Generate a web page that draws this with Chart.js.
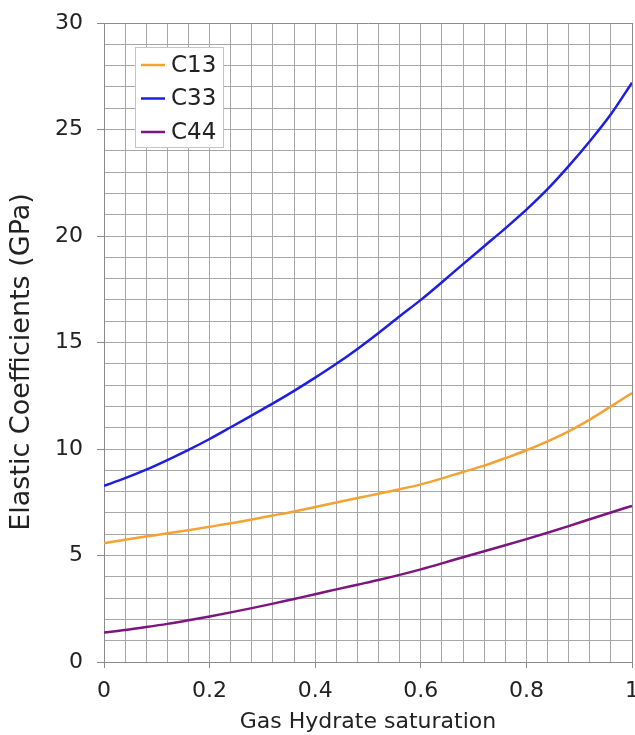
<!DOCTYPE html>
<html>
<head>
<meta charset="utf-8">
<title>Elastic Coefficients vs Gas Hydrate saturation</title>
<script src="https://cdn.jsdelivr.net/npm/chart.js@4.4.1/dist/chart.umd.min.js"></script>
<style>
  html, body { margin: 0; padding: 0; background: #ffffff; }
  canvas { display: block; }
</style>
</head>
<body>
<canvas id="chart" width="635" height="735"></canvas>
<script>
// Gas hydrate saturation (fraction) at which each coefficient is given
const saturation = [0, 0.04, 0.08, 0.12, 0.16, 0.20, 0.24, 0.28, 0.32, 0.36, 0.40, 0.44, 0.48,
                    0.52, 0.56, 0.60, 0.64, 0.68, 0.72, 0.76, 0.80, 0.84, 0.88, 0.92, 0.96, 1.00];

// Elastic coefficients in GPa
const c13 = [5.58, 5.74, 5.89, 6.04, 6.19, 6.35, 6.51, 6.69, 6.88, 7.07, 7.28, 7.49, 7.70,
             7.90, 8.11, 8.34, 8.62, 8.92, 9.22, 9.57, 9.94, 10.36, 10.83, 11.38, 12.00, 12.63];
const c33 = [8.27, 8.63, 9.03, 9.48, 9.96, 10.47, 11.02, 11.58, 12.14, 12.73, 13.35, 14.00, 14.70,
             15.45, 16.23, 17.00, 17.83, 18.68, 19.52, 20.36, 21.24, 22.20, 23.28, 24.45, 25.72, 27.20];
const c44 = [1.38, 1.50, 1.64, 1.79, 1.96, 2.14, 2.33, 2.53, 2.74, 2.96, 3.18, 3.41, 3.63,
             3.85, 4.09, 4.35, 4.63, 4.92, 5.20, 5.48, 5.77, 6.07, 6.38, 6.70, 7.02, 7.33];

// Labelled tick values on each axis
const xTickLabels = [0, 0.2, 0.4, 0.6, 0.8, 1];
const yTickLabels = [0, 5, 10, 15, 20, 25, 30];

const seriesNames = ['C13', 'C33', 'C44'];
const seriesColors = ['#F4A233', '#1E1EE0', '#7D157F'];
const yTitle = 'Elastic Coefficients (GPa)';

const FONT = '"DejaVu Sans", "Liberation Sans", Arial, sans-serif';
const TEXT = '#222222';
const GRID = '#a6a6a6';
const FRAME = '#8a8a8a';

function pts(ys) {
  return saturation.map((x, i) => ({ x: x, y: ys[i] }));
}
function isLabelled(v, list) {
  return list.some(t => Math.abs(t - v) < 1e-6);
}

// Boxed legend inside the plot area (top left) and the rotated y-axis title
const boxLegend = {
  id: 'boxLegend',
  afterDraw(chart) {
    const { ctx, chartArea } = chart;
    const x0 = chartArea.left + 31;
    const y0 = chartArea.top + 24;
    const w = 88, h = 100;
    ctx.save();
    ctx.fillStyle = '#ffffff';
    ctx.fillRect(x0, y0, w, h);
    ctx.strokeStyle = '#c4c4c4';
    ctx.lineWidth = 1;
    ctx.strokeRect(x0 + 0.5, y0 + 0.5, w, h);
    ctx.font = '23px ' + FONT;
    ctx.textBaseline = 'middle';
    ctx.textAlign = 'left';
    chart.data.datasets.forEach((ds, i) => {
      const cy = y0 + 18 + i * 33.5;
      ctx.strokeStyle = ds.borderColor;
      ctx.lineWidth = 2.5;
      ctx.beginPath();
      ctx.moveTo(x0 + 6, cy);
      ctx.lineTo(x0 + 30, cy);
      ctx.stroke();
      ctx.fillStyle = TEXT;
      ctx.fillText(ds.label, x0 + 36, cy + 1);
    });

    // y-axis title, set a little below the axis middle
    ctx.translate(22, chartArea.bottom - 300);
    ctx.rotate(-Math.PI / 2);
    ctx.font = '27px ' + FONT;
    ctx.textAlign = 'center';
    ctx.textBaseline = 'middle';
    ctx.fillStyle = TEXT;
    ctx.fillText(yTitle, 0, 0);
    ctx.restore();
  }
};

new Chart(document.getElementById('chart'), {
  type: 'line',
  data: {
    datasets: [c13, c33, c44].map((ys, i) => ({
      label: seriesNames[i],
      data: pts(ys),
      borderColor: seriesColors[i],
      backgroundColor: seriesColors[i],
      borderWidth: 2.5,
      pointRadius: 0,
      fill: false,
      cubicInterpolationMode: 'monotone'
    }))
  },
  options: {
    responsive: false,
    animation: false,
    events: [],
    layout: { padding: { top: 23, right: 3, left: 0, bottom: 0 } },
    plugins: {
      legend: { display: false },
      tooltip: { enabled: false }
    },
    scales: {
      x: {
        type: 'linear',
        min: 0,
        max: 1,
        border: { display: true, color: FRAME, width: 1 },
        grid: {
          color: ctx => (ctx.index === 0 || Math.abs(ctx.tick.value - 1) < 1e-6) ? FRAME : GRID,
          lineWidth: 1,
          drawTicks: true,
          tickLength: 6,
          tickColor: ctx => isLabelled(ctx.tick.value, xTickLabels) ? FRAME : 'rgba(0,0,0,0)'
        },
        ticks: {
          stepSize: 0.04,
          autoSkip: false,
          maxRotation: 0,
          padding: 10,
          color: TEXT,
          font: { family: FONT, size: 22 },
          callback: v => isLabelled(v, xTickLabels) ? String(Math.round(v * 10) / 10) : ''
        },
        title: {
          display: true,
          text: 'Gas Hydrate saturation',
          color: TEXT,
          font: { family: FONT, size: 22 },
          padding: { top: 0, bottom: 0 }
        },
        afterFit: s => { s.height = 73; s.paddingLeft = 0; s.paddingRight = 0; }
      },
      y: {
        type: 'linear',
        min: 0,
        max: 30,
        border: { display: true, color: FRAME, width: 1 },
        grid: {
          color: ctx => (ctx.index === 0 || ctx.tick.value === 30) ? FRAME : GRID,
          lineWidth: 1,
          drawTicks: true,
          tickLength: 7,
          tickColor: ctx => isLabelled(ctx.tick.value, yTickLabels) ? FRAME : 'rgba(0,0,0,0)'
        },
        ticks: {
          stepSize: 1,
          autoSkip: false,
          padding: 14,
          color: TEXT,
          font: { family: FONT, size: 22 },
          callback: v => isLabelled(v, yTickLabels) ? String(v) : ''
        },
        title: { display: false },
        afterFit: s => { s.width = 104; s.paddingTop = 0; s.paddingBottom = 0; }
      }
    }
  },
  plugins: [boxLegend]
});
</script>
</body>
</html>
